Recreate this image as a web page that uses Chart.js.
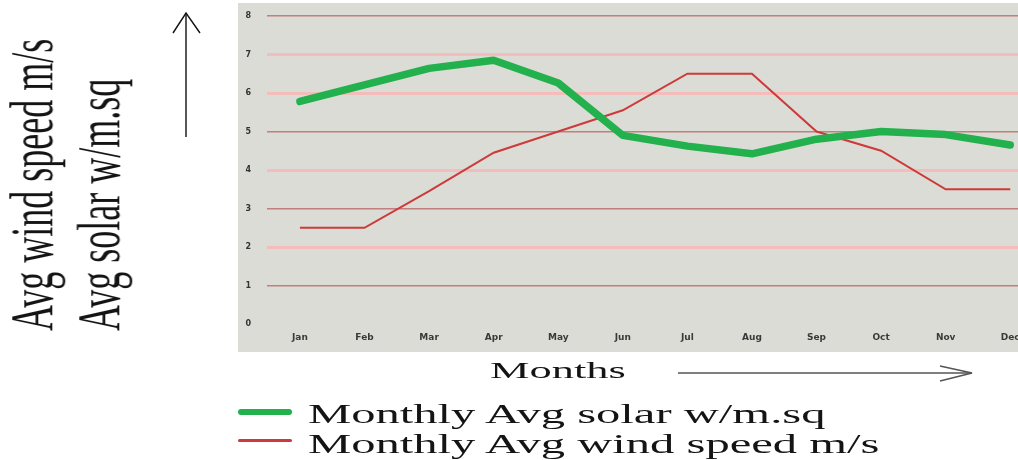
<!DOCTYPE html>
<html>
<head>
<meta charset="utf-8">
<script src="https://cdn.jsdelivr.net/npm/chart.js@4/dist/chart.umd.min.js"></script>
<style>
html,body{margin:0;padding:0;background:#fff;}
#wrap{position:relative;width:1018px;height:460px;overflow:hidden;background:#fff;}
#c{position:absolute;left:0;top:0;}
.serif{position:absolute;font-family:"Liberation Serif","DejaVu Serif",serif;color:#141414;white-space:pre;transform-origin:0 0;}
#ytitle{left:0;top:331px;font-size:36px;line-height:39px;transform:rotate(-90deg) scaleY(1.7);}
#xtitle{left:490px;top:358px;font-size:24px;line-height:24px;transform:scaleX(1.85);}
.lgline{position:absolute;left:238px;width:54px;border-radius:3px;}
.lgtext{position:absolute;left:308px;font-size:27px;line-height:27px;transform:scaleX(1.8);}
#arrows{position:absolute;left:0;top:0;pointer-events:none;}
</style>
</head>
<body>
<div id="wrap">
  <canvas id="c" width="1018" height="460"></canvas>
  <div id="ytitle" class="serif"></div>
  <div id="xtitle" class="serif"></div>
  <svg id="arrows" width="1018" height="460">
    <line x1="186" y1="137" x2="186" y2="13" stroke="#111" stroke-width="1.4"/>
    <polyline points="173,33 186,13 200,33" fill="none" stroke="#111" stroke-width="1.4"/>
    <line x1="678" y1="373" x2="972" y2="373" stroke="#555" stroke-width="1.6"/>
    <polyline points="940,366 972,373 940,381" fill="none" stroke="#555" stroke-width="1.6"/>
  </svg>
  <div id="legend"></div>
</div>
<script>
// ---- data ----
const months = ['Jan','Feb','Mar','Apr','May','Jun','Jul','Aug','Sep','Oct','Nov','Dec'];
const solarValues = [5.78, 6.21, 6.64, 6.85, 6.26, 4.9, 4.62, 4.42, 4.8, 5.0, 4.92, 4.65];
const windValues  = [2.5, 2.5, 3.45, 4.45, 5.0, 5.55, 6.5, 6.5, 5.0, 4.5, 3.5, 3.5];
const yTickValues = [0,1,2,3,4,5,6,7,8];
const seriesLabels = ['Monthly Avg solar w/m.sq', 'Monthly Avg wind speed m/s'];
const seriesColors = ['#22b14c', '#cc3a3a'];
const yAxisTitle = ['Avg wind speed m/s', 'Avg solar w/m.sq'];
const xAxisTitle = 'Months';

document.getElementById('ytitle').textContent = yAxisTitle.join('\n');
document.getElementById('xtitle').textContent = xAxisTitle;

// HTML legend built from series labels
const legend = document.getElementById('legend');
const lgTops = [[409, 6, 401], [439, 3, 431]];
seriesLabels.forEach((lab, i) => {
  const ln = document.createElement('div');
  ln.className = 'lgline';
  ln.style.top = lgTops[i][0] + 'px';
  ln.style.height = lgTops[i][1] + 'px';
  ln.style.background = seriesColors[i];
  legend.appendChild(ln);
  const tx = document.createElement('div');
  tx.className = 'serif lgtext';
  tx.style.top = lgTops[i][2] + 'px';
  tx.textContent = lab;
  legend.appendChild(tx);
});

const bgPlugin = {
  id: 'plotBg',
  beforeDraw(chart) {
    const a = chart.chartArea, ctx = chart.ctx;
    ctx.save();
    ctx.fillStyle = '#dcdcd6';
    ctx.fillRect(a.left - 29, a.top - 13, chart.width - (a.left - 29), (a.bottom + 28) - (a.top - 13));
    ctx.restore();
  }
};

const darkLines = [1, 3, 5, 8];

new Chart(document.getElementById('c'), {
  type: 'line',
  data: {
    datasets: [
      {
        label: seriesLabels[0],
        data: months.map((m, i) => ({x: i, y: solarValues[i]})),
        borderColor: seriesColors[0],
        borderWidth: 7.5,
        borderCapStyle: 'round',
        borderJoinStyle: 'round',
        pointRadius: 0,
        tension: 0
      },
      {
        label: seriesLabels[1],
        data: months.map((m, i) => ({x: i, y: windValues[i]})),
        borderColor: seriesColors[1],
        borderWidth: 2,
        pointRadius: 0,
        tension: 0
      }
    ]
  },
  options: {
    responsive: false,
    animation: false,
    layout: {padding: {left: 238, right: 0, top: 16, bottom: 108}},
    plugins: {legend: {display: false}, tooltip: {enabled: false}},
    scales: {
      x: {
        type: 'linear',
        min: -0.51,
        max: 11.12,
        afterBuildTicks: axis => { axis.ticks = months.map((m, i) => ({value: i})); },
        afterFit: axis => { axis.height = 28; axis.paddingLeft = 0; axis.paddingRight = 0; },
        grid: {display: false, drawTicks: false},
        border: {display: false},
        ticks: {
          autoSkip: false,
          maxRotation: 0,
          padding: 8,
          color: '#3a3a3a',
          font: {family: 'DejaVu Sans', size: 9, weight: 'bold'},
          callback: v => months[v] !== undefined ? months[v] : ''
        }
      },
      y: {
        min: 0,
        max: 8,
        afterBuildTicks: axis => { axis.ticks = yTickValues.map(v => ({value: v})); },
        afterFit: axis => { axis.width = 29; axis.paddingTop = 0; axis.paddingBottom = 0; },
        border: {display: false},
        grid: {
          drawTicks: false,
          color: c => c.tick.value === 0 ? 'rgba(0,0,0,0)' : (darkLines.includes(c.tick.value) ? 'rgba(188,110,110,0.85)' : 'rgba(244,186,186,0.95)'),
          lineWidth: c => darkLines.includes(c.tick.value) ? 1.5 : 3
        },
        ticks: {
          padding: 16,
          color: '#333',
          font: {family: 'DejaVu Sans', size: 8, weight: 'bold'}
        }
      }
    }
  },
  plugins: [bgPlugin]
});
</script>
</body>
</html>
